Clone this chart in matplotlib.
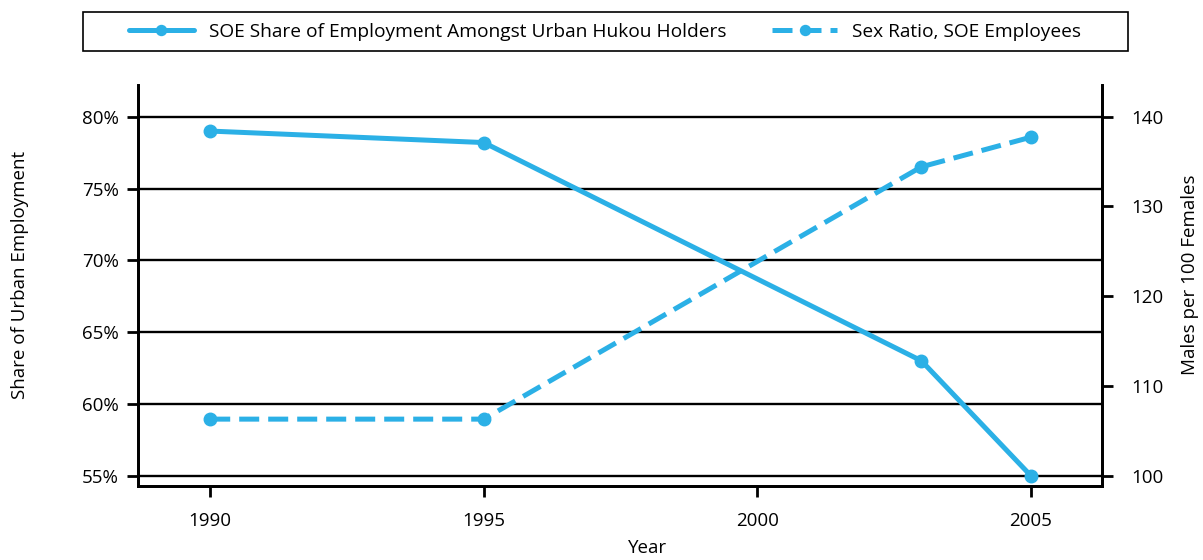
import matplotlib
matplotlib.use("Agg")
import matplotlib.pyplot as plt
from matplotlib.ticker import FuncFormatter
from matplotlib.patches import Rectangle

plt.rcParams['font.family'] = ['Open Sans', 'DejaVu Sans']

years_share = [1990, 1995, 2003, 2005]
soe_share = [79.0, 78.2, 63.0, 55.0]
years_ratio = [1990, 1995, 2003, 2005]
sex_ratio = [106.3, 106.3, 134.4, 137.7]
x_ticks = [1990, 1995, 2000, 2005]
left_ticks = [55, 60, 65, 70, 75, 80]
right_ticks = [100, 110, 120, 130, 140]

color = '#2BB0E6'
W, H = 1203, 560

fig = plt.figure(figsize=(12.03, 5.6), dpi=100)
ax = fig.add_axes([0.1147, 0.1321, 0.8013, 0.7159])
ax2 = ax.twinx()

ax.set_xlim(1988.68, 2006.3)
ax.set_ylim(54.28, 82.2)
ax2.set_ylim(98.85, 143.5)

for y in left_ticks:
    ax.axhline(y, color='black', lw=1.7, zorder=1)

l1, = ax.plot(years_share, soe_share, color=color, lw=3.6, marker='o', ms=9,
              solid_capstyle='round', zorder=3,
              label='SOE Share of Employment Amongst Urban Hukou Holders')
l2, = ax2.plot(years_ratio, sex_ratio, color=color, lw=3.6, marker='o', ms=9,
               dashes=(4, 1.8), zorder=3, label='Sex Ratio, SOE Employees')

ax.set_xticks(x_ticks)
ax.set_yticks(left_ticks)
ax.yaxis.set_major_formatter(FuncFormatter(lambda v, p: f'{int(v)}%'))
ax2.set_yticks(right_ticks)

for a in (ax, ax2):
    for s in a.spines.values():
        s.set_linewidth(2)
    a.spines['top'].set_visible(False)
    a.tick_params(direction='out', length=8, width=2, labelsize=13.5, pad=6)
ax.tick_params(axis='x', pad=11)
ax2.tick_params(axis='y', pad=13)

ax.set_xlabel('Year', fontsize=13.5)
ax.xaxis.set_label_coords((648 - 138) / (1102 - 138), -(548 - 486) / (486 - 85))
ax.xaxis.label.set_va('center')
ax.set_ylabel('Share of Urban Employment', fontsize=13.5)
ax.yaxis.set_label_coords(-(138 - 20) / (1102 - 138), (486 - 275) / (486 - 85))
ax.yaxis.label.set_va('center')
ax2.set_ylabel('Males per 100 Females', fontsize=13.5)
ax2.yaxis.set_label_coords(1 + (1190 - 1102) / (1102 - 138), (486 - 275) / (486 - 85))
ax2.yaxis.label.set_va('center')

leg = fig.legend(handles=[l1, l2], loc='center', bbox_to_anchor=(0.503, 1 - 32 / H),
                 ncol=2, fontsize=13.75, frameon=False,
                 handlelength=3.4, columnspacing=2.4, markerscale=0.8)
fig.patches.append(Rectangle((83 / W, 1 - 51 / H), (1128 - 83) / W, 39 / H,
                             transform=fig.transFigure, fill=False,
                             edgecolor='black', lw=1.2))

fig.savefig('out.png', dpi=100)
